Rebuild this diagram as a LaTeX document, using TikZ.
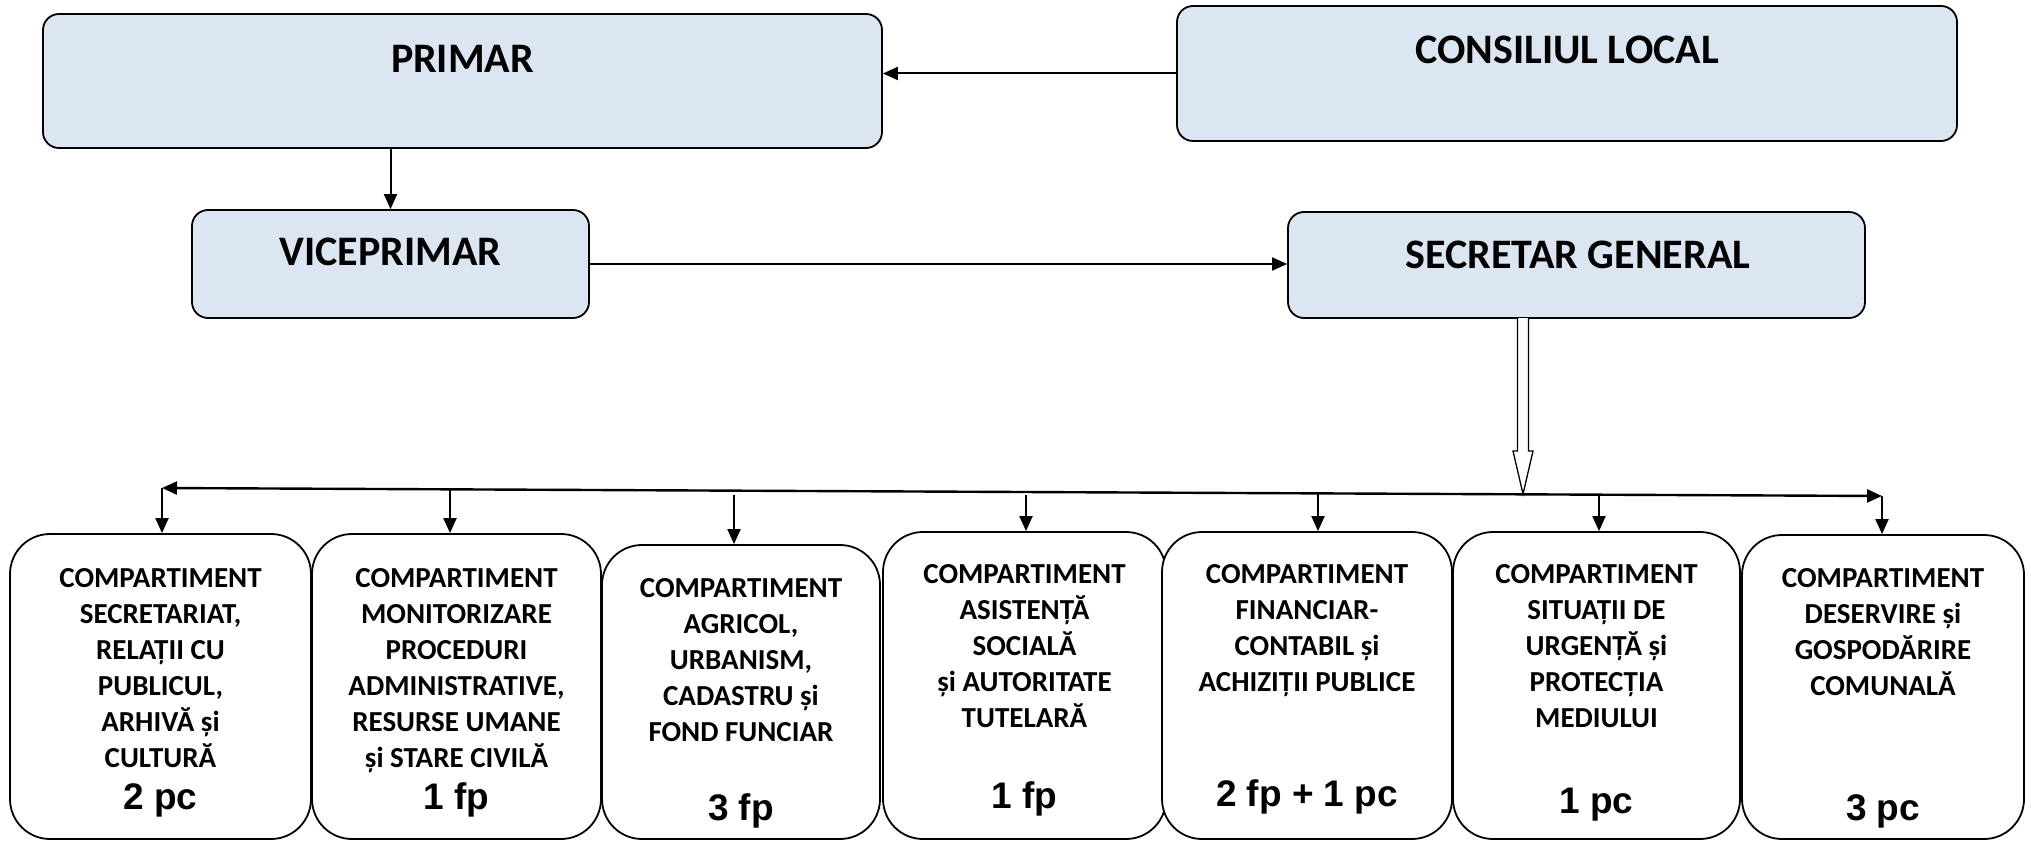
\documentclass[tikz,border=0pt]{standalone}
\usepackage{fontspec}
\setmainfont{Carlito}
\newfontfamily\numfont{Liberation Sans}
\usetikzlibrary{arrows.meta,calc}
\definecolor{boxblue}{HTML}{DCE6F2}
\begin{document}
\begin{tikzpicture}[x=1pt,y=-1pt,
  topbox/.style={draw=black, line width=1.8pt, fill=boxblue, rounded corners=16pt, inner sep=0pt},
  unitbox/.style={draw=black, line width=1.8pt, fill=white, rounded corners=40pt, inner sep=0pt},
  toptext/.style={font=\fontsize{42}{50}\selectfont\bfseries, inner sep=0pt},
  unittext/.style={font=\fontsize{29}{36}\selectfont\bfseries, align=center, inner sep=0pt, anchor=north},
  numtext/.style={font=\numfont\bfseries\fontsize{37}{44}\selectfont, inner sep=0pt, anchor=base},
  tip/.tip={Triangle[length=15pt,width=13pt]},
  conn/.style={line width=2pt, -tip},
]
\useasboundingbox (0,0) rectangle (2031,842);

% top level boxes
\node[topbox, minimum width=839pt, minimum height=134pt] (primar) at (462.5,81) {};
\node[toptext] (tprimar) at (462.5,59) {PRIMAR};
\node[topbox, minimum width=780pt, minimum height=135pt] (cl) at (1567,73.5) {};
\node[toptext] (tcl) at (1567,50) {CONSILIUL LOCAL};
\node[topbox, minimum width=397pt, minimum height=108pt] (vp) at (390.5,264) {};
\node[toptext] (tvp) at (390.5,252) {VICEPRIMAR};
\node[topbox, minimum width=577pt, minimum height=106pt] (sg) at (1576.5,265) {};
\node[toptext] (tsg) at (1578,255) {SECRETAR GENERAL};

% connectors between top boxes
\draw[conn] (cl.west) -- (cl.west -| primar.east);
\draw[conn] (vp.north |- primar.south) -- (vp.north);
\draw[conn] (vp.east) -- (vp.east -| sg.west);

% hollow block arrow from secretar general
\draw[line width=1.3pt, fill=white]
  (1517.5,318) -- (1517.5,451) -- (1513,451) -- (1523,494) -- (1533,451) -- (1528.5,451) -- (1528.5,318);

% bottom boxes
\node[unitbox, minimum width=301pt, minimum height=305pt] (b1) at (160.5,686.5) {};
\node[unitbox, minimum width=289pt, minimum height=305pt] (b2) at (456.5,686.5) {};
\node[unitbox, minimum width=278pt, minimum height=294pt] (b3) at (741,692) {};
\node[unitbox, minimum width=283pt, minimum height=307pt] (b4) at (1024.5,685.5) {};
\node[unitbox, minimum width=290pt, minimum height=307pt] (b5) at (1307,685.5) {};
\node[unitbox, minimum width=287pt, minimum height=307pt] (b6) at (1596.5,685.5) {};
\node[unitbox, minimum width=282pt, minimum height=304pt] (b7) at (1883,687) {};

\node[unittext] (t1) at (160.5,568) {COMPARTIMENT\\SECRETARIAT,\\RELAȚII CU\\PUBLICUL,\\ARHIVĂ și\\CULTURĂ};
\node[numtext] (n1) at (160.5,809) {2 pc};
\node[unittext] (t2) at (456.5,568) {COMPARTIMENT\\MONITORIZARE\\PROCEDURI\\ADMINISTRATIVE,\\RESURSE UMANE\\și STARE CIVILĂ};
\node[numtext] (n2) at (456.5,809) {1 fp};
\node[unittext] (t3) at (741,578) {COMPARTIMENT\\AGRICOL,\\URBANISM,\\CADASTRU și\\FOND FUNCIAR};
\node[numtext] (n3) at (741,820) {3 fp};
\node[unittext] (t4) at (1024.5,564) {COMPARTIMENT\\ASISTENȚĂ\\SOCIALĂ\\și AUTORITATE\\TUTELARĂ};
\node[numtext] (n4) at (1024.5,808) {1 fp};
\node[unittext] (t5) at (1307,564) {COMPARTIMENT\\FINANCIAR-\\CONTABIL și\\ACHIZIȚII PUBLICE};
\node[numtext] (n5) at (1307,806) {2 fp + 1 pc};
\node[unittext] (t6) at (1596.5,564) {COMPARTIMENT\\SITUAȚII DE\\URGENȚĂ și\\PROTECȚIA\\MEDIULUI};
\node[numtext] (n6) at (1596.5,813) {1 pc};
\node[unittext] (t7) at (1883,568) {COMPARTIMENT\\DESERVIRE și\\GOSPODĂRIRE\\COMUNALĂ};
\node[numtext] (n7) at (1883,820) {3 pc};

% distribution bus
\coordinate (busL) at (162,488);
\coordinate (busR) at (1882,496);
\coordinate (d2) at (450,489.3);
\coordinate (d3) at (734,495);
\coordinate (d4) at (1026,495);
\coordinate (d5) at (1318,493.4);
\coordinate (d6) at (1599,494.7);
\draw[line width=2.4pt, tip-tip] (busL) -- (busR);
\draw[conn] (busL) -- (busL |- b1.north);
\draw[conn] (d2) -- (d2 |- b2.north);
\draw[conn] (d3) -- (d3 |- b3.north);
\draw[conn] (d4) -- (d4 |- b4.north);
\draw[conn] (d5) -- (d5 |- b5.north);
\draw[conn] (d6) -- (d6 |- b6.north);
\draw[conn] (busR) -- (busR |- b7.north);
\end{tikzpicture}
\end{document}
